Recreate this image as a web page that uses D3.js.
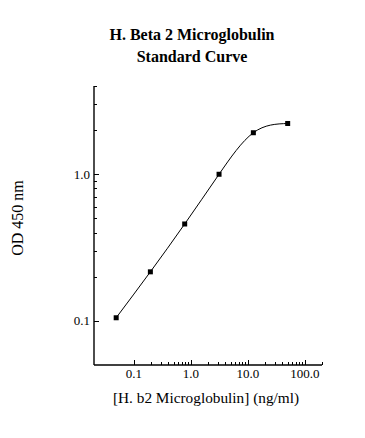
<!DOCTYPE html>
<head>
  <meta charset="utf-8">
  <style>
    body { margin: 0; background: #fff; }
    svg { display: block; font-family: "Liberation Serif", "Times New Roman", serif; }
  </style>
  <script src="https://cdn.jsdelivr.net/npm/d3@7"></script>
</head>
<body>
<div id=chart></div>
<script>
// standard concentrations (ng/ml) and measured OD
const conc = [0.049, 0.195, 0.78, 3.125, 12.5, 50]
const od = [0.105, 0.216, 0.458, 1.0, 1.92, 2.22]
const title_lines = ['H. Beta 2 Microglobulin', 'Standard Curve']
const x_major = [0.1, 1, 10, 100]
const y_major = [0.1, 1]

const width = 365, height = 438
const svg = d3.select('#chart').append('svg')
  .attr('width', width).attr('height', height)

const x = d3.scaleLog().domain([0.02, 200]).range([94, 322])
const y = d3.scaleLog().domain([0.05, 4]).range([365, 86])

// minor ticks: every integer step from the first labelled decade up to the top of domain
const log_ticks = (lo, hi) => {
  const out = []
  for (let d = lo; d < hi * 1.0001; d *= 10)
    for (let k = 1; k <= 9; k++) if (d * k <= hi * 1.0001) out.push(d * k)
  return out
}
const x_ticks = log_ticks(0.1, 200)
const y_ticks = log_ticks(0.1, 4)
const is_major = (v, list) => list.some(m => Math.abs(v / m - 1) < 1e-6)

// title
svg.append('g').selectAll('text').data(title_lines).join('text')
  .attr('x', 192).attr('y', (d, i) => 40 + i * 22)
  .attr('text-anchor', 'middle')
  .attr('font-size', 16).attr('font-weight', 'bold')
  .text(d => d)

// axes
const ax = svg.append('g').attr('stroke', '#000').attr('stroke-width', 1.4)
ax.append('line').attr('x1', x.range()[0]).attr('x2', x.range()[1])
  .attr('y1', 365).attr('y2', 365)
ax.append('line').attr('x1', 94).attr('x2', 94)
  .attr('y1', y.range()[0]).attr('y2', y.range()[1])
ax.selectAll('.xt').data(x_ticks).join('line')
  .attr('x1', d => Math.round(x(d)) + .5).attr('x2', d => Math.round(x(d)) + .5)
  .attr('y1', 365).attr('y2', d => 365 - (is_major(d, x_major) ? 5 : 3))
  .attr('stroke-width', 1)
ax.selectAll('.yt').data(y_ticks).join('line')
  .attr('y1', d => Math.round(y(d)) + .5).attr('y2', d => Math.round(y(d)) + .5)
  .attr('x1', 94).attr('x2', d => 94 + (is_major(d, y_major) ? 5 : 3))
  .attr('stroke-width', 1)

// tick labels
const fmt = v => v.toFixed(1)
svg.append('g').selectAll('text').data(x_major).join('text')
  .attr('x', d => x(d)).attr('y', 378)
  .attr('text-anchor', 'middle').attr('font-size', 13)
  .text(fmt)
svg.append('g').selectAll('text').data(y_major).join('text')
  .attr('x', 90).attr('y', d => y(d) + 4.5)
  .attr('text-anchor', 'end').attr('font-size', 13)
  .text(fmt)

// axis titles
svg.append('text').attr('x', 206).attr('y', 403)
  .attr('text-anchor', 'middle').attr('font-size', 15.3)
  .text('[H. b2 Microglobulin] (ng/ml)')
svg.append('text')
  .attr('transform', 'translate(23,218) rotate(-90)')
  .attr('text-anchor', 'middle').attr('font-size', 16)
  .text('OD 450 nm')

// fitted curve through the standards
const pts = conc.map((c, i) => [x(c), y(od[i])])
svg.append('path')
  .attr('d', d3.line().curve(d3.curveNatural)(pts))
  .attr('fill', 'none').attr('stroke', '#000').attr('stroke-width', 1)

svg.append('g').selectAll('rect').data(pts).join('rect')
  .attr('x', d => d[0] - 2.5).attr('y', d => d[1] - 2.5)
  .attr('width', 5).attr('height', 5).attr('fill', '#000')
</script>
</body>
